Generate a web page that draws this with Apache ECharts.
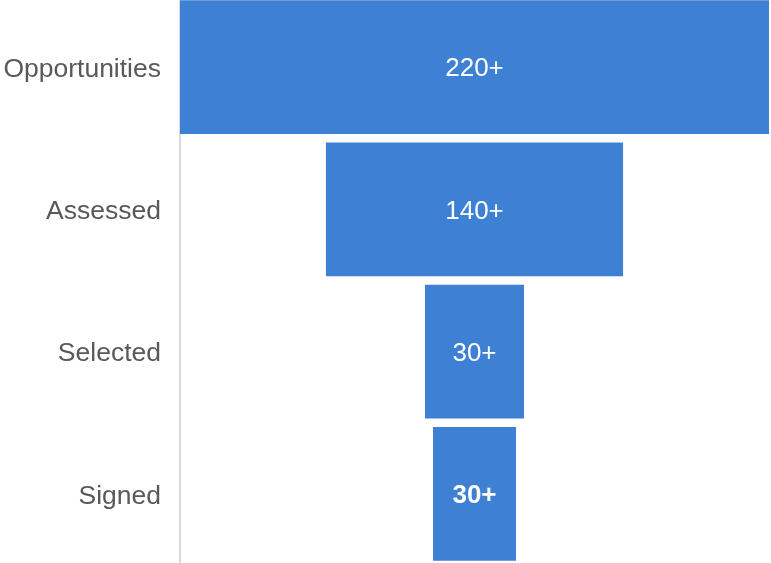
<!DOCTYPE html>
<html>
<head>
<meta charset="utf-8">
<script src="https://cdn.jsdelivr.net/npm/echarts@6/dist/echarts.min.js"></script>
<style>
  html, body { margin: 0; padding: 0; background: #fff; overflow: hidden; }
  /* plot runs slightly past the top and bottom edges of the page */
  #chart { width: 771px; height: 569px; margin-top: -4px; }
</style>
</head>
<body>
<div id="chart"></div>
<script>
// Pipeline stages, top to bottom
const stages = ['Opportunities', 'Assessed', 'Selected', 'Signed'];
// Stage sizes (bar widths)
const counts = [220, 111, 37, 31];
// Text shown inside each bar
const countLabels = ['220+', '140+', '30+', '30+'];
// Stages whose label is emphasised
const boldStages = ['Signed'];

const maxCount = Math.max(...counts);
// Invisible spacer so every bar is centred on the axis midpoint
const spacer = counts.map(v => (maxCount - v) / 2);

const font = 'Liberation Sans, Arial, sans-serif';
const chart = echarts.init(document.getElementById('chart'));
chart.setOption({
  animation: false,
  grid: { left: 180, right: 2, top: 0, bottom: 0, containLabel: false },
  xAxis: {
    type: 'value', min: 0, max: maxCount, show: false
  },
  yAxis: {
    type: 'category',
    data: stages,
    inverse: true,
    axisLine: { show: true, lineStyle: { color: '#d9d9d9', width: 2 } },
    axisTick: { show: false },
    axisLabel: {
      margin: 19,
      formatter: v => '{s|' + v + '}',
      rich: {
        s: {
          color: '#595959', fontSize: 26.5, fontFamily: font,
          padding: [5, 0, 0, 0]
        }
      }
    }
  },
  series: [
    {
      type: 'bar', stack: 'f', data: spacer,
      itemStyle: { color: 'transparent' },
      barCategoryGap: '6%', silent: true
    },
    {
      type: 'bar', stack: 'f',
      data: counts.map((v, i) => ({
        value: v,
        label: { fontWeight: boldStages.includes(stages[i]) ? 'bold' : 'normal' }
      })),
      itemStyle: { color: '#3e80d4' },
      barCategoryGap: '6%',
      label: {
        show: true, position: 'inside', color: '#fff', fontSize: 26,
        fontFamily: font, offset: [0, 2],
        formatter: p => countLabels[p.dataIndex]
      }
    }
  ]
});
</script>
</body>
</html>
